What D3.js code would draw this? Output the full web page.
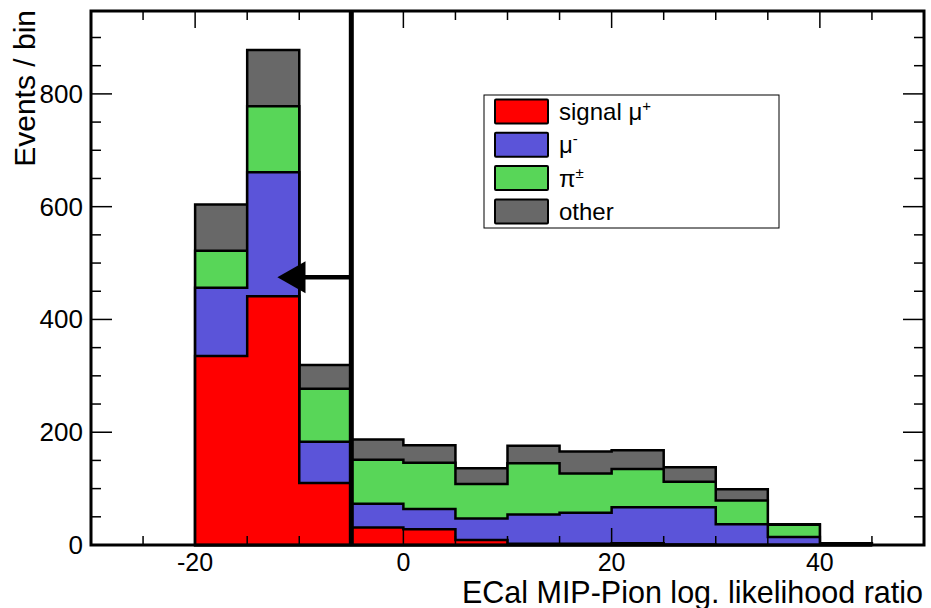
<!DOCTYPE html>
<html>
<head>
<meta charset="utf-8">
<script src="https://cdn.jsdelivr.net/npm/d3@7"></script>
<style>
  body { margin: 0; background: #fff; }
  text { font-family: "Liberation Sans", Arial, Helvetica, sans-serif; }
</style>
</head>
<body>
<svg id="chart" width="931" height="608"></svg>
<script>
// bin lower edges, width 5
var binStart = [-20, -15, -10, -5, 0, 5, 10, 15, 20, 25, 30, 35, 40]
var binWidth = 5
// stacked components, bottom to top
var signalMuPlus = [335, 441, 110, 31, 28, 9, 2, 2, 3, 1, 0, 0, 0]
var muMinus      = [121, 220, 73, 42, 36, 38, 52, 55, 64, 66, 37, 14, 0]
var pions        = [66, 117, 94, 78, 82, 61, 91, 70, 68, 45, 42, 22, 0]
var other        = [82, 100, 42, 36, 31, 28, 31, 39, 33, 26, 20, 1, 3]

var xTicksMajor = [-20, 0, 20, 40]
var yTicksMajor = [0, 200, 400, 600, 800]
var cutValue = -5
var arrowY = 475

var svg = d3.select('#chart')
var margin = { left: 91, right: 924, top: 11, bottom: 545 }

var x = d3.scaleLinear().domain([-30, 50]).range([margin.left, margin.right])
var y = d3.scaleLinear().domain([0, 947]).range([margin.bottom, margin.top])

var layers = [
    { name: 'signal', vals: signalMuPlus, color: '#ff0000' },
    { name: 'muminus', vals: muMinus, color: '#5b54d9' },
    { name: 'pion', vals: pions, color: '#58d658' },
    { name: 'other', vals: other, color: '#686868' }
]
// cumulative sums
var cum = binStart.map(() => 0)
layers.forEach(function (l) {
    l.cum = l.vals.map((v, i) => cum[i] + v)
    cum = l.cum
})

function stepPath(c) {
    var p = 'M' + x(binStart[0]) + ',' + y(0)
    for (var i = 0; i < binStart.length; i++) {
        p += 'L' + x(binStart[i]) + ',' + y(c[i])
        p += 'L' + x(binStart[i] + binWidth) + ',' + y(c[i])
    }
    p += 'L' + x(binStart[binStart.length - 1] + binWidth) + ',' + y(0) + 'Z'
    return p
}

// draw from the top of the stack down
svg.append('g')
    .selectAll('path')
    .data(layers.slice().reverse())
    .enter()
    .append('path')
    .attr('d', d => stepPath(d.cum))
    .attr('fill', d => d.color)
    .attr('stroke', '#000')
    .attr('stroke-width', 2.5)
    .attr('stroke-linejoin', 'miter')

// cut line and arrow
svg.append('line')
    .attr('x1', x(cutValue)).attr('x2', x(cutValue))
    .attr('y1', y(0)).attr('y2', margin.top)
    .attr('stroke', '#000').attr('stroke-width', 5)
svg.append('line')
    .attr('x1', x(cutValue)).attr('x2', x(-9.6))
    .attr('y1', y(arrowY)).attr('y2', y(arrowY))
    .attr('stroke', '#000').attr('stroke-width', 4.5)
svg.append('path')
    .attr('d', 'M' + x(-12.1) + ',' + y(arrowY) +
        'L' + x(-9.4) + ',' + (y(arrowY) - 16) +
        'L' + x(-9.4) + ',' + (y(arrowY) + 16) + 'Z')
    .attr('fill', '#000')

// frame
svg.append('rect')
    .attr('x', margin.left).attr('y', margin.top)
    .attr('width', margin.right - margin.left)
    .attr('height', margin.bottom - margin.top)
    .attr('fill', 'none').attr('stroke', '#000').attr('stroke-width', 3)

// ticks, drawn inside on all four sides
var ticks = svg.append('g').attr('stroke', '#000').attr('stroke-width', 1.5)
d3.range(-25, 50, 5).forEach(function (v) {
    var len = xTicksMajor.indexOf(v) >= 0 ? 17 : 9
    ticks.append('line').attr('x1', x(v)).attr('x2', x(v))
        .attr('y1', margin.bottom).attr('y2', margin.bottom - len)
    ticks.append('line').attr('x1', x(v)).attr('x2', x(v))
        .attr('y1', margin.top).attr('y2', margin.top + len)
})
d3.range(50, 947, 50).forEach(function (v) {
    var len = yTicksMajor.indexOf(v) >= 0 ? 21 : 10
    ticks.append('line').attr('y1', y(v)).attr('y2', y(v))
        .attr('x1', margin.left).attr('x2', margin.left + len)
    ticks.append('line').attr('y1', y(v)).attr('y2', y(v))
        .attr('x1', margin.right).attr('x2', margin.right - len)
})

// tick labels
svg.append('g').selectAll('text')
    .data(xTicksMajor)
    .enter()
    .append('text')
    .attr('x', d => x(d))
    .attr('y', 571)
    .attr('text-anchor', 'middle')
    .attr('font-size', 25)
    .text(d => d)
svg.append('g').selectAll('text')
    .data(yTicksMajor)
    .enter()
    .append('text')
    .attr('x', 83)
    .attr('y', d => y(d) + 9)
    .attr('text-anchor', 'end')
    .attr('font-size', 26)
    .text(d => d)

// axis titles
svg.append('text')
    .attr('x', 923).attr('y', 603)
    .attr('text-anchor', 'end')
    .attr('font-size', 30.5)
    .text('ECal MIP-Pion log. likelihood ratio')
svg.append('text')
    .attr('transform', 'translate(35,10) rotate(-90)')
    .attr('text-anchor', 'end')
    .attr('font-size', 30)
    .text('Events / bin')

// legend
var legend = svg.append('g')
legend.append('rect')
    .attr('x', 484).attr('y', 95).attr('width', 295).attr('height', 133)
    .attr('fill', '#fff').attr('stroke', '#000').attr('stroke-width', 1)
var legendItems = [
    { color: '#ff0000', base: 'signal μ', sup: '+' },
    { color: '#5b54d9', base: 'μ', sup: '-' },
    { color: '#58d658', base: 'π', sup: '±' },
    { color: '#686868', base: 'other', sup: '' }
]
legendItems.forEach(function (d, i) {
    var cy = 111 + i * 33.3
    legend.append('rect')
        .attr('x', 495).attr('y', cy - 11.5).attr('width', 53).attr('height', 24)
        .attr('fill', d.color).attr('stroke', '#000').attr('stroke-width', 2)
        .attr('rx', 1)
    var t = legend.append('text')
        .attr('x', 559).attr('y', cy + 9)
        .attr('font-size', 24)
    t.append('tspan').text(d.base)
    if (d.sup) {
        t.append('tspan').attr('dy', -9).attr('font-size', 15).text(d.sup)
    }
})
</script>
</body>
</html>
